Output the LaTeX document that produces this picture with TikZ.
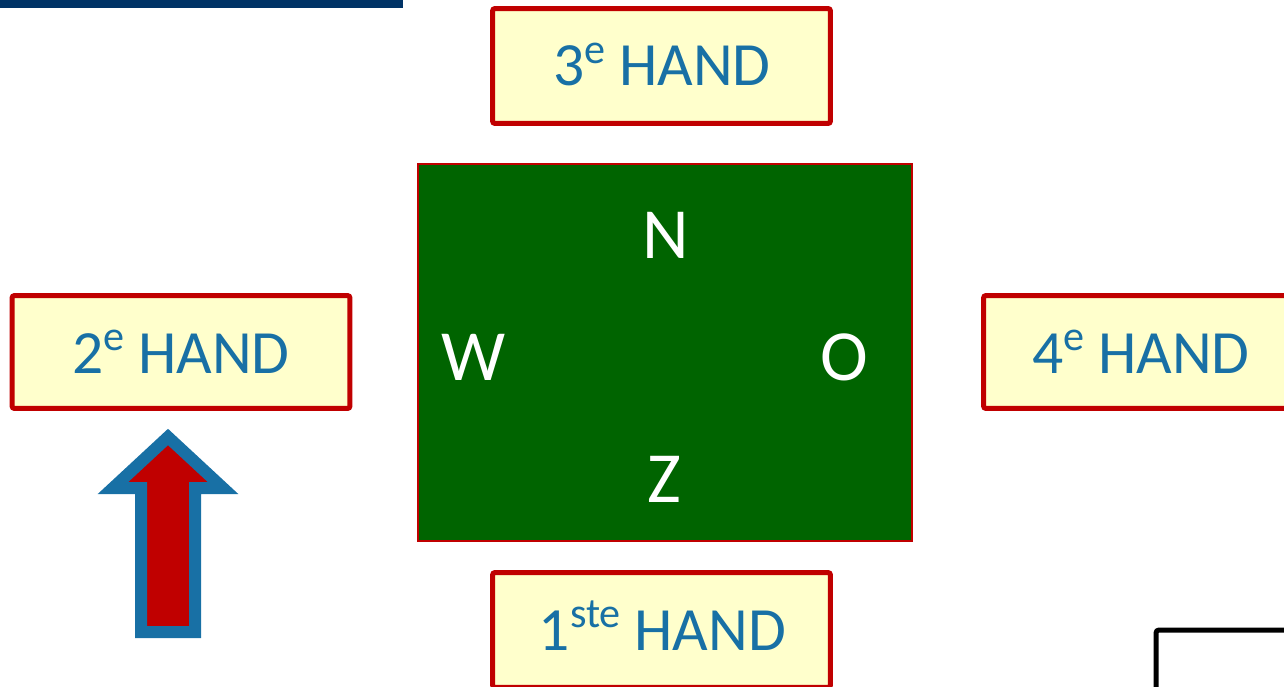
\documentclass[tikz,border=0pt]{standalone}
\usepackage{fontspec}
\setmainfont{Carlito}
\definecolor{handred}{HTML}{C00000}
\definecolor{handfill}{HTML}{FFFFCC}
\definecolor{handblue}{HTML}{1870A5}
\definecolor{boardgreen}{HTML}{006400}
\definecolor{navy}{HTML}{003366}
\newcommand\supx[1]{\raisebox{0.46cm}{\fontsize{24}{24}\selectfont #1}}
\begin{document}
\begin{tikzpicture}[x=0.02cm,y=-0.02cm,
  handbox/.style={draw=handred, line width=0.1cm, fill=handfill, rounded corners=0.05cm,
    minimum width=6.76cm, minimum height=2.3cm, inner sep=0, anchor=center},
  handtext/.style={text=handblue, font=\fontsize{35}{40}\selectfont, anchor=base, inner sep=0},
  dirtext/.style={text=white, font=\fontsize{41}{48}\selectfont, anchor=base, inner sep=0}]
\useasboundingbox (0,0) rectangle (1284,686);
\clip (0,0) rectangle (1284,686);
% top navy bar
\fill[navy] (0,0) rectangle (403,8);
% board
\node[draw=handred, line width=0.04cm, fill=boardgreen, minimum width=9.88cm, minimum height=7.54cm, inner sep=0] (board) at (665,352.5) {};
\node[dirtext] (n) at (665.5,258) {N};
\node[dirtext] (w) at (473.5,380) {W};
\node[dirtext] (o) at (844.5,380) {O};
\node[dirtext] (z) at (664.5,502) {Z};
% hand boxes
\node[handbox] (h3) at (661.5,66) {};
\node[handtext] (t3) at (662,86) {3\supx{e} HAND};
\node[handbox, minimum height=2.26cm] (h2) at (181,352) {};
\node[handtext] (t2) at (181,373) {2\supx{e} HAND};
\node[handbox, minimum height=2.26cm] (h4) at (1152.5,352) {};
\node[handtext] (t4) at (1141,373) {4\supx{e} HAND};
\node[handbox] (h1) at (661.5,630) {};
\node[handtext] (t1) at (662.5,650) {1\supx{ste} HAND};
% arrow
\draw[draw=handblue, fill=handred, line width=0.24cm, miter limit=10]
  (168,437) -- (223,488) -- (195,488) -- (195,632) -- (141,632) -- (141,488) -- (113,488) -- cycle;
% black box corner
\draw[black, line width=0.1cm, rounded corners=0.06cm] (1156,720) -- (1156,630) -- (1320,630);
\end{tikzpicture}
\end{document}
